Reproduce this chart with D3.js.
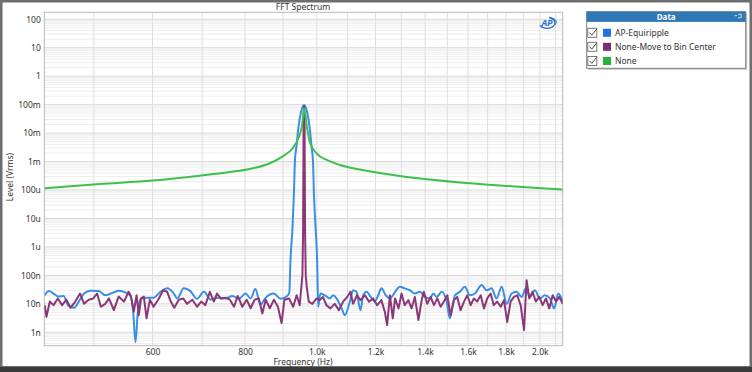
<!DOCTYPE html>
<html><head><meta charset="utf-8">
<script src="https://cdn.jsdelivr.net/npm/d3@7"></script>
<style>body{margin:0;background:#fff}svg{display:block}text{font-family:"Noto Sans","Open Sans",sans-serif}</style>
</head><body>
<script>
// ---------- DATA ----------
const seriesNames = ["AP-Equiripple", "None-Move to Bin Center", "None"];
const seriesColors = ["#3a8ee6", "#8b3777", "#3fc04c"];
const swatchColors = ["#1f74e6", "#7a2d79", "#27b23d"];

const yTickValues = [1e-9, 1e-8, 1e-7, 1e-6, 1e-5, 1e-4, 1e-3, 1e-2, 1e-1, 1, 10, 100];
const yTickLabels = ["1n", "10n", "100n", "1u", "10u", "100u", "1m", "10m", "100m", "1", "10", "100"];
const xTickValues = [600, 800, 1000, 1200, 1400, 1600, 1800, 2000];
const xTickLabels = ["600", "800", "1.0k", "1.2k", "1.4k", "1.6k", "1.8k", "2.0k"];
const xGridValues = [500, 600, 700, 800, 900, 1000, 1100, 1200, 1300, 1400, 1500, 1600, 1700, 1800, 1900, 2000, 2100];

// AP-Equiripple
const blueF = [429,435,441,448,455,462,470,477,485,495,508,518,527,540,552,560,565,569,573,578,590,602,615,628,641,648,661,675,689,704,719,733,753,769,785,801,814,826,839,853,875,893,912,918,921,927,931,934,939,944,952,961,970,978,983,988,991,996,1001,1004,1011,1025,1041,1052,1063,1080,1091,1108,1119,1131,1145,1155,1167,1182,1197,1210,1222,1239,1255,1275,1294,1314,1335,1356,1377,1399,1421,1436,1451,1474,1497,1512,1536,1560,1584,1609,1634,1669,1695,1721,1748,1776,1804,1832,1860,1890,1915,1939,1969,2000,2031,2064,2090,2118,2147];
const blueV = [2.0e-8,2.8e-8,2.3e-8,1.8e-8,1.9e-8,8.5e-9,7.3e-9,1.2e-8,2.3e-8,2.9e-8,2.8e-8,2.0e-8,2.3e-8,2.9e-8,2.5e-8,1.9e-8,5.3e-9,4.5e-10,4.6e-9,1.5e-8,1.65e-8,1.65e-8,2.65e-8,3.5e-8,2.3e-8,1.55e-8,3.5e-8,2.8e-8,1.5e-8,2.65e-8,1.4e-8,1.65e-8,1.55e-8,1.9e-8,1.5e-8,2.3e-8,1.55e-8,3.3e-8,9.5e-9,1.65e-8,2.3e-8,1.5e-8,1.9e-8,2.5e-8,3e-7,4.6e-6,6.6e-5,1e-3,3.8e-3,1.5e-2,0.056,0.098,0.056,1.5e-2,3.8e-3,1e-3,6.6e-5,4.6e-6,3e-7,7.9e-9,2.3e-8,2.0e-8,1.55e-8,2.0e-8,1.55e-8,6.9e-9,4e-9,1.2e-8,3.0e-8,2.65e-8,6e-9,2.0e-8,2.65e-8,1.75e-8,1.2e-8,2.0e-8,3.5e-8,2.0e-8,1.55e-8,2.65e-8,4.0e-8,3.5e-8,3.0e-8,2.3e-8,2.65e-8,1.75e-8,1.55e-8,2.3e-8,1.75e-8,2.65e-8,1.2e-8,3.1e-9,2.0e-8,2.65e-8,4.0e-8,2.0e-8,2.3e-8,4.6e-8,3.0e-8,3.5e-8,1.55e-8,4.0e-8,1.0e-8,2.3e-8,2.65e-8,1.75e-8,3.5e-8,1.75e-8,3.0e-8,1.55e-8,2.0e-8,1.55e-8,6.9e-9,2.3e-8,1.2e-8];

// None-Move to Bin Center
const purpleF = [429,431.5,436,441,447,453,459,465,472,479,485,492,499,505,511,518,524,532,540,549,557,561,566,571,575,579,584,589,595,602,612,620,628,635,642,651,660,668,679,689,698,707,717,726,733,743,753,763,773,782,793,804,814,824,835,844,853,864,875,886,896,904,917,929,939,948,953,956,958,959.5,961,962.5,964,966,969,975,986,999,1009,1019,1030,1043,1057,1071,1085,1099,1110,1119,1133,1145,1161,1176,1191,1206,1222,1235,1244,1255,1266,1275,1289,1301,1314,1329,1342,1356,1371,1384,1394,1409,1424,1439,1454,1469,1484,1500,1515,1531,1547,1563,1580,1596,1613,1629,1646,1664,1681,1698,1716,1733,1751,1771,1789,1807,1826,1845,1864,1884,1904,1919,1935,1955,1975,1996,2017,2038,2059,2081,2103,2124,2147];
const purpleV = [9e-9,3.5e-9,1.2e-8,9e-9,1.55e-8,9e-9,1.4e-8,7.3e-9,1.2e-8,2.3e-8,1.0e-8,1.4e-8,1.55e-8,2.3e-8,7.9e-9,1.0e-8,1.55e-8,6e-9,1.8e-8,1.2e-8,2.65e-8,1.9e-8,5.3e-9,2.0e-8,4e-9,1.55e-8,1.8e-8,3.1e-9,1.4e-8,7.9e-9,1.55e-8,3.0e-8,2.65e-8,1.2e-8,7.3e-9,1.4e-8,1.55e-8,1.0e-8,1.4e-8,7.9e-9,1.2e-8,9e-9,2.65e-8,1.2e-8,2.3e-8,1.5e-8,1.65e-8,1.4e-8,7.9e-9,1.9e-8,7.9e-9,1.4e-8,7e-9,1.4e-8,1.55e-8,4.6e-9,1.4e-8,7e-9,1.4e-8,7.9e-9,2.1e-9,1.4e-8,1.55e-8,7.9e-9,2.0e-8,9e-9,4e-8,1e-7,3e-6,0.02,0.09,0.02,3e-6,1e-7,4e-8,1.2e-8,1.0e-8,1.55e-8,1.35e-8,1.75e-8,9e-9,6.9e-9,1.0e-8,6e-9,1.2e-8,1.75e-8,2.65e-8,1.0e-8,2.0e-8,1.35e-8,2.0e-8,1.2e-8,1.55e-8,9e-9,1.35e-8,5.3e-9,1.8e-9,2.0e-8,3.1e-9,1.55e-8,6.9e-9,2.3e-8,9e-9,1.35e-8,6.9e-9,1.75e-8,2.7e-9,1.2e-8,2.65e-8,1.0e-8,1.75e-8,9e-9,1.55e-8,7.9e-9,1.2e-8,2.0e-8,4e-9,1.35e-8,1.75e-8,6e-9,1.2e-8,2.0e-8,9e-9,1.55e-8,1.2e-8,2.0e-8,6.9e-9,1.55e-8,2.3e-8,9e-9,1.2e-8,7.9e-9,1.35e-8,2.3e-9,1.2e-8,1.75e-8,2.0e-8,9e-9,1.2e-9,6.8e-8,1.55e-8,2.65e-8,1.2e-8,1.75e-8,9e-9,1.55e-8,6.9e-9,2.0e-8,1.2e-8,1.75e-8,1.0e-8];

// None
const greenF = [429,509,600,695,763,812,864,898,928,944,955,961,970,978,999,1035,1074,1143,1216,1294,1421,1560,1767,1939,2147];
const greenV = [1.15e-4,1.62e-4,2.16e-4,3.2e-4,4.3e-4,5.5e-4,8.7e-4,1.5e-3,3e-3,6.6e-3,0.019,0.075,0.015,4.9e-3,1.95e-3,1.1e-3,7.6e-4,5.25e-4,3.95e-4,3.1e-4,2.34e-4,1.84e-4,1.44e-4,1.22e-4,1.04e-4];

const xDomain = [428.6, 2147];
const yDomain = [3.38e-10, 176];

// ---------- LAYOUT ----------
const W = 752, H = 372;
const P = {l: 44.3, r: 562.7, t: 12.3, b: 345.7};
const tightFont = '"Liberation Sans", Arial, sans-serif';

const svg = d3.select("body").append("svg").attr("width", W).attr("height", H);

// outer frame
svg.append("rect").attr("x", 1.25).attr("y", 1.25).attr("width", W - 2.5).attr("height", 366)
  .attr("fill", "#fff").attr("stroke", "#6e6e6e").attr("stroke-width", 2.5);
svg.append("rect").attr("x", 0).attr("y", 367).attr("width", W).attr("height", 5).attr("fill", "#3a3a3a");

const x = d3.scaleLog().domain(xDomain).range([P.l, P.r]);
const y = d3.scaleLog().domain(yDomain).range([P.b, P.t]);

// grid
const grid = svg.append("g");
const minorY = [];
for (let d = -10; d <= 2; d++) for (let m = 2; m <= 9; m++) {
  const v = m * Math.pow(10, d);
  if (v > yDomain[0] && v < yDomain[1]) minorY.push(v);
}
grid.selectAll(".ym").data(minorY).join("line")
  .attr("x1", P.l).attr("x2", P.r).attr("y1", d => y(d)).attr("y2", d => y(d))
  .attr("stroke", "#eeeeee").attr("stroke-width", 1);
grid.selectAll(".yM").data(yTickValues).join("line")
  .attr("x1", P.l).attr("x2", P.r).attr("y1", d => y(d)).attr("y2", d => y(d))
  .attr("stroke", "#d9d9d9").attr("stroke-width", 1);
grid.selectAll(".xg").data(xGridValues).join("line")
  .attr("x1", d => x(d)).attr("x2", d => x(d)).attr("y1", P.t).attr("y2", P.b)
  .attr("stroke", "#dedede").attr("stroke-width", 1);

// plot border
svg.append("rect").attr("x", P.l).attr("y", P.t).attr("width", P.r - P.l).attr("height", P.b - P.t)
  .attr("fill", "none").attr("stroke", "#b8b8b8").attr("stroke-width", 1);

// clip
svg.append("clipPath").attr("id", "clip").append("rect")
  .attr("x", P.l).attr("y", P.t).attr("width", P.r - P.l).attr("height", P.b - P.t);

const lineSmooth = d3.line().x(d => x(d[0])).y(d => y(d[1])).curve(d3.curveMonotoneX);
const lineLin = d3.line().x(d => x(d[0])).y(d => y(d[1]));

const plot = svg.append("g").attr("clip-path", "url(#clip)");
plot.append("path").datum(d3.zip(blueF, blueV)).attr("d", lineSmooth)
  .attr("fill", "none").attr("stroke", seriesColors[0]).attr("stroke-width", 2).attr("stroke-linejoin", "round");
plot.append("path").datum(d3.zip(purpleF, purpleV)).attr("d", lineLin)
  .attr("fill", "none").attr("stroke", seriesColors[1]).attr("stroke-width", 2).attr("stroke-linejoin", "round");
plot.append("path").datum(d3.zip(greenF, greenV)).attr("d", lineSmooth)
  .attr("fill", "none").attr("stroke", seriesColors[2]).attr("stroke-width", 2).attr("stroke-linejoin", "round");

// axes
const yAxis = d3.axisLeft(y).tickValues(yTickValues)
  .tickFormat((d, i) => yTickLabels[i]).tickSize(0).tickPadding(3.5);
const gy = svg.append("g").attr("transform", `translate(${P.l},0)`).call(yAxis);
gy.select(".domain").remove();
gy.selectAll("text").attr("font-size", 8.5).attr("fill", "#333")
  .attr("font-family", '"Noto Sans","Open Sans",sans-serif');

const xAxis = d3.axisBottom(x).tickValues(xTickValues)
  .tickFormat((d, i) => xTickLabels[i]).tickSize(0).tickPadding(0);
const gx = svg.append("g").attr("transform", `translate(0,${P.b})`).call(xAxis);
gx.select(".domain").remove();
gx.selectAll("text").attr("font-size", 8.5).attr("fill", "#333")
  .attr("font-family", tightFont).attr("dy", null).attr("y", 9.6);

// titles
svg.append("text").attr("x", 303).attr("y", 9.5).attr("text-anchor", "middle")
  .attr("font-size", 8.5).attr("fill", "#333").text("FFT Spectrum");
svg.append("text").attr("x", 303).attr("y", 365.3).attr("text-anchor", "middle")
  .attr("font-family", tightFont).attr("font-size", 8.5).attr("fill", "#333").text("Frequency (Hz)");
svg.append("text").attr("transform", "translate(13,177) rotate(-90)").attr("text-anchor", "middle")
  .attr("font-size", 8.5).attr("fill", "#333").text("Level (Vrms)");

// AP logo
const logo = svg.append("g").attr("transform", "translate(547,22.5)");
logo.append("path").attr("d", "M -7 3 A 8 5.5 0 1 0 2 -5").attr("fill", "none")
  .attr("stroke", "#2a6fd3").attr("stroke-width", 1.3);
logo.append("path").attr("d", "M 4 -4.5 A 6 4 0 0 1 8 2").attr("fill", "none")
  .attr("stroke", "#2a6fd3").attr("stroke-width", 1);
logo.append("text").attr("x", 0).attr("y", 3.5).attr("text-anchor", "middle")
  .attr("font-size", 9).attr("font-weight", "bold").attr("font-style", "italic")
  .attr("fill", "#2a6fd3").text("AP");

// legend
const L = {x: 586.7, y: 11.7, w: 159, h: 56.6};
const lg = svg.append("g");
lg.append("rect").attr("x", L.x + 1.5).attr("y", L.y + 1.5).attr("width", L.w).attr("height", L.h).attr("fill", "#c8c8c8");
lg.append("rect").attr("x", L.x).attr("y", L.y).attr("width", L.w).attr("height", L.h)
  .attr("fill", "#fff").attr("stroke", "#7d7d7d").attr("stroke-width", 1);
lg.append("rect").attr("x", L.x).attr("y", L.y).attr("width", L.w).attr("height", 10.2).attr("fill", "#2f78b5");
lg.append("text").attr("x", L.x + L.w / 2).attr("y", L.y + 8).attr("text-anchor", "middle")
  .attr("font-size", 8).attr("font-weight", "bold").attr("fill", "#fff").text("Data");
lg.append("line").attr("x1", L.x + L.w - 11).attr("x2", L.x + L.w - 8.5).attr("y1", L.y + 4).attr("y2", L.y + 4)
  .attr("stroke", "#fff").attr("stroke-width", 0.8);
lg.append("path").attr("d", `M ${L.x + L.w - 7.5} ${L.y + 2.5} h 3 v 3.5 h -3`).attr("fill", "none")
  .attr("stroke", "#fff").attr("stroke-width", 0.8);

const rowY = [32.8, 46.8, 61];
seriesNames.forEach((name, i) => {
  const cy = rowY[i];
  lg.append("rect").attr("x", 587.8).attr("y", cy - 4.5).attr("width", 9).attr("height", 9)
    .attr("fill", "#fff").attr("stroke", "#6a6a6a").attr("stroke-width", 0.9);
  lg.append("path").attr("d", `M ${589.5} ${cy - 0.2} L ${591.8} ${cy + 2.3} L ${596.5} ${cy - 3.5}`)
    .attr("fill", "none").attr("stroke", "#444").attr("stroke-width", 1);
  lg.append("rect").attr("x", 603).attr("y", cy - 4).attr("width", 8).attr("height", 8).attr("fill", swatchColors[i]);
  lg.append("text").attr("x", 615).attr("y", cy + 3).attr("font-size", 8.5).attr("fill", "#333").text(name);
});
</script>
</body></html>
